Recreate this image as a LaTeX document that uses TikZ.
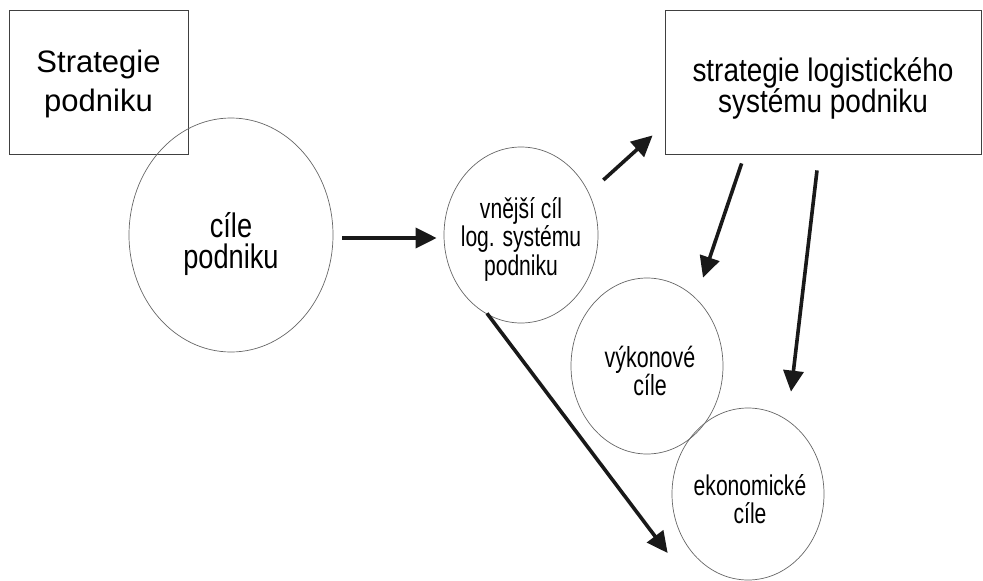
\documentclass[tikz,border=0pt]{standalone}
\usepackage{fontspec}
\setmainfont{Liberation Sans}
\newfontfamily\tallA[FakeStretch=0.86]{Liberation Sans}
\newfontfamily\tallB[FakeStretch=0.8]{Liberation Sans}
\newfontfamily\tallC[FakeStretch=0.74]{Liberation Sans}
\usepackage{tikz}
\usetikzlibrary{shapes.geometric, arrows.meta, calc}
\tikzset{
  box/.style={rectangle, draw=black!75, line width=0.8pt, inner sep=0pt},
  oval/.style={ellipse, draw=black!60, line width=0.7pt, inner sep=0pt},
  txt/.style={align=center, inner sep=0pt},
  arr/.style={-{Triangle[length=21pt, width=20pt]}, line width=3.6pt, draw=black!90}
}

\begin{document}
\begin{tikzpicture}[x=1pt, y=-1pt]
\useasboundingbox (0,0) rectangle (983,581);

% shapes
\node[box, minimum width=179pt, minimum height=144pt] (strat) at (98.5,82) {};
\node[oval, minimum width=204pt, minimum height=234pt] (cile) at (231,235) {};
\node[oval, minimum width=154pt, minimum height=176pt] (vnejsi) at (521,235) {};
\node[box, minimum width=316pt, minimum height=144pt] (logstrat) at (823,82) {};
\node[oval, minimum width=152pt, minimum height=176pt] (vykon) at (647,366) {};
\node[oval, minimum width=152pt, minimum height=172pt] (ekon) at (748,494) {};

% texts
\node[txt, font=\fontsize{31}{39}\selectfont] (strat-t)
  at ([yshift=-2pt]strat.center) {Strategie\\podniku};
\node[txt, font=\tallB\fontsize{34}{31}\selectfont] (cile-t)
  at ([yshift=-9pt]cile.center) {c\'ile\\podniku};
\node[txt, font=\tallC\fontsize{28.5}{28.5}\selectfont] (vnejsi-t)
  at ([yshift=-4pt]vnejsi.center) {vnější cíl\\log. systému\\podniku};
\node[txt, font=\tallA\fontsize{32.5}{31}\selectfont] (logstrat-t)
  at ([yshift=-6pt]logstrat.center) {strategie logistického\\systému podniku};
\node[txt, font=\tallC\fontsize{29}{26.5}\selectfont] (vykon-t)
  at ([xshift=3pt, yshift=-5pt]vykon.center) {výkonové\\cíle};
\node[txt, font=\tallC\fontsize{28.5}{28}\selectfont] (ekon-t)
  at ([xshift=2pt, yshift=-5pt]ekon.center) {ekonomické\\cíle};

% arrows
\draw[arr] ([xshift=9pt, yshift=-3pt]cile.east) -- ([xshift=-7pt, yshift=-3pt]vnejsi.west);
\draw[arr] ([xshift=5pt, yshift=55pt]vnejsi.east) -- ([xshift=-12pt, yshift=19pt]logstrat.south west);
\draw[arr] ([xshift=77pt, yshift=-9pt]logstrat.south west) -- ([xshift=56pt]vykon.north);
\draw[arr] ([xshift=-6pt, yshift=-16pt]logstrat.south) -- ([xshift=43pt, yshift=16pt]ekon.north);
\draw[arr] ([xshift=-34pt, yshift=10pt]vnejsi.south) -- ([xshift=-4pt, yshift=-59pt]ekon.west);
\end{tikzpicture}
\end{document}
